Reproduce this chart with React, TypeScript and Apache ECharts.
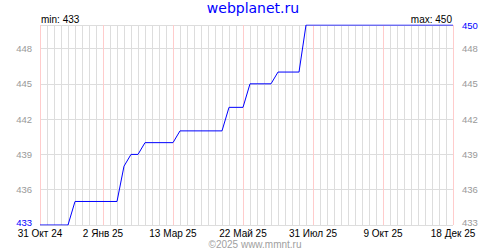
import React, { useEffect, useRef } from 'react';
import * as echarts from 'echarts';

const dates = [
  '2024-10-31', '2024-11-28', '2024-12-05', '2025-01-16', '2025-01-23', '2025-01-30',
  '2025-02-06', '2025-02-13', '2025-03-13', '2025-03-20', '2025-05-01', '2025-05-08',
  '2025-05-22', '2025-05-29', '2025-06-19', '2025-06-26', '2025-07-17', '2025-07-24',
  '2025-12-18',
];
const values = [433, 433, 435, 435, 438, 439, 439, 440, 440, 441, 441, 443, 443, 445, 445, 446, 446, 450, 450];
const labelDates = ['2024-10-31', '2025-01-02', '2025-03-13', '2025-05-22', '2025-07-31', '2025-10-09', '2025-12-18'];
const monthNames = ['Янв', 'Фев', 'Мар', 'Апр', 'Май', 'Июн', 'Июл', 'Авг', 'Сен', 'Окт', 'Ноя', 'Дек'];
const titleText = 'webplanet.ru';
const footerText = '©2025 www.mmnt.ru';
const yStep = 3;

const toMs = (s: string) => {
  const [y, m, d] = s.split('-').map(Number);
  return Date.UTC(y, m - 1, d);
};
const DAY = 86400000;
const WEEK = 7 * DAY;

export default function App() {
  const ref = useRef<HTMLDivElement>(null);
  useEffect(() => {
    if (!ref.current) return;
    const chart = echarts.init(ref.current, undefined, { renderer: 'svg' });
    const xMin = toMs(labelDates[0]);
    const xMax = toMs(labelDates[labelDates.length - 1]);
    const yMin = Math.min(...values);
    const yMax = Math.max(...values);
    const labelSet = new Set(labelDates.map(toMs));
    const nTicks = Math.round((xMax - xMin) / WEEK) + 1;
    const lineColors: string[] = [];
    for (let i = 0; i < nTicks; i++) {
      lineColors.push(labelSet.has(xMin + i * WEEK) ? '#ffcccc' : '#dddddd');
    }
    const fmtDate = (v: number) => {
      const d = new Date(v);
      return `${d.getUTCDate()} ${monthNames[d.getUTCMonth()]} ${String(d.getUTCFullYear()).slice(2)}`;
    };
    const font = 'Liberation Sans, Arial, sans-serif';
    const yAxisBase = {
      type: 'value',
      min: yMin,
      max: yMax,
      interval: yStep,
      axisLine: { show: false },
      axisTick: { show: false },
    };
    const lowStyle = (color: string) => ({
      color,
      fontSize: 9.5,
      fontFamily: font,
      padding: [0, 0, 6, 0],
    });
    chart.setOption({
      animation: false,
      grid: { left: 40, right: 47, top: 25, bottom: 25 },
      xAxis: {
        type: 'value',
        min: xMin,
        max: xMax,
        interval: WEEK,
        axisLine: { show: false },
        axisTick: { show: false },
        splitLine: { show: true, lineStyle: { color: lineColors, width: 1 } },
        axisLabel: {
          show: true,
          interval: 0,
          margin: 3,
          color: '#000',
          fontSize: 10,
          fontFamily: font,
          formatter: (v: number) => (labelSet.has(v) ? fmtDate(v) : ''),
        },
      },
      yAxis: [
        {
          ...yAxisBase,
          position: 'left',
          splitLine: { show: true, lineStyle: { color: '#dddddd', width: 1 } },
          axisLabel: {
            margin: 8,
            fontSize: 9.5,
            fontFamily: font,
            color: '#999999',
            formatter: (v: number) => (v === yMax ? '' : v === yMin ? `{lo|${v}}` : String(v)),
            rich: { lo: lowStyle('#0000ff') },
          },
        },
        {
          ...yAxisBase,
          position: 'right',
          splitLine: { show: false },
          axisLabel: {
            margin: 9,
            fontSize: 9.5,
            fontFamily: font,
            color: (v: any) => (Number(v) === yMax ? '#0000ff' : '#999999'),
            formatter: (v: number) => (v === yMin ? `{lo|${v}}` : String(v)),
            rich: { lo: lowStyle('#999999') },
          },
        },
      ],
      series: [
        {
          type: 'line',
          yAxisIndex: 0,
          showSymbol: false,
          symbol: 'none',
          lineStyle: { color: '#0000ff', width: 1 },
          data: dates.map((d, i) => [toMs(d), values[i]]),
        },
      ],
      graphic: [
        {
          type: 'text',
          x: 253,
          y: 8,
          style: {
            text: titleText,
            fill: '#0000ff',
            fontSize: 14,
            fontFamily: 'DejaVu Sans, sans-serif',
            textAlign: 'center',
            textVerticalAlign: 'middle',
          },
        },
        {
          type: 'text',
          x: 41,
          y: 19,
          style: {
            text: `min: ${yMin}`,
            fill: '#000',
            fontSize: 10,
            fontFamily: font,
            textAlign: 'left',
            textVerticalAlign: 'middle',
          },
        },
        {
          type: 'text',
          x: 452,
          y: 19,
          style: {
            text: `max: ${yMax}`,
            fill: '#000',
            fontSize: 10,
            fontFamily: font,
            textAlign: 'right',
            textVerticalAlign: 'middle',
          },
        },
        {
          type: 'text',
          x: 255,
          y: 244,
          style: {
            text: footerText,
            fill: '#a0a0a0',
            fontSize: 10,
            fontFamily: font,
            textAlign: 'center',
            textVerticalAlign: 'middle',
          },
        },
      ],
    });
    return () => chart.dispose();
  }, []);
  return (
    <div
      ref={ref}
      style={{ position: 'fixed', left: 0, top: 0, width: 500, height: 250, background: '#fff' }}
    />
  );
}
